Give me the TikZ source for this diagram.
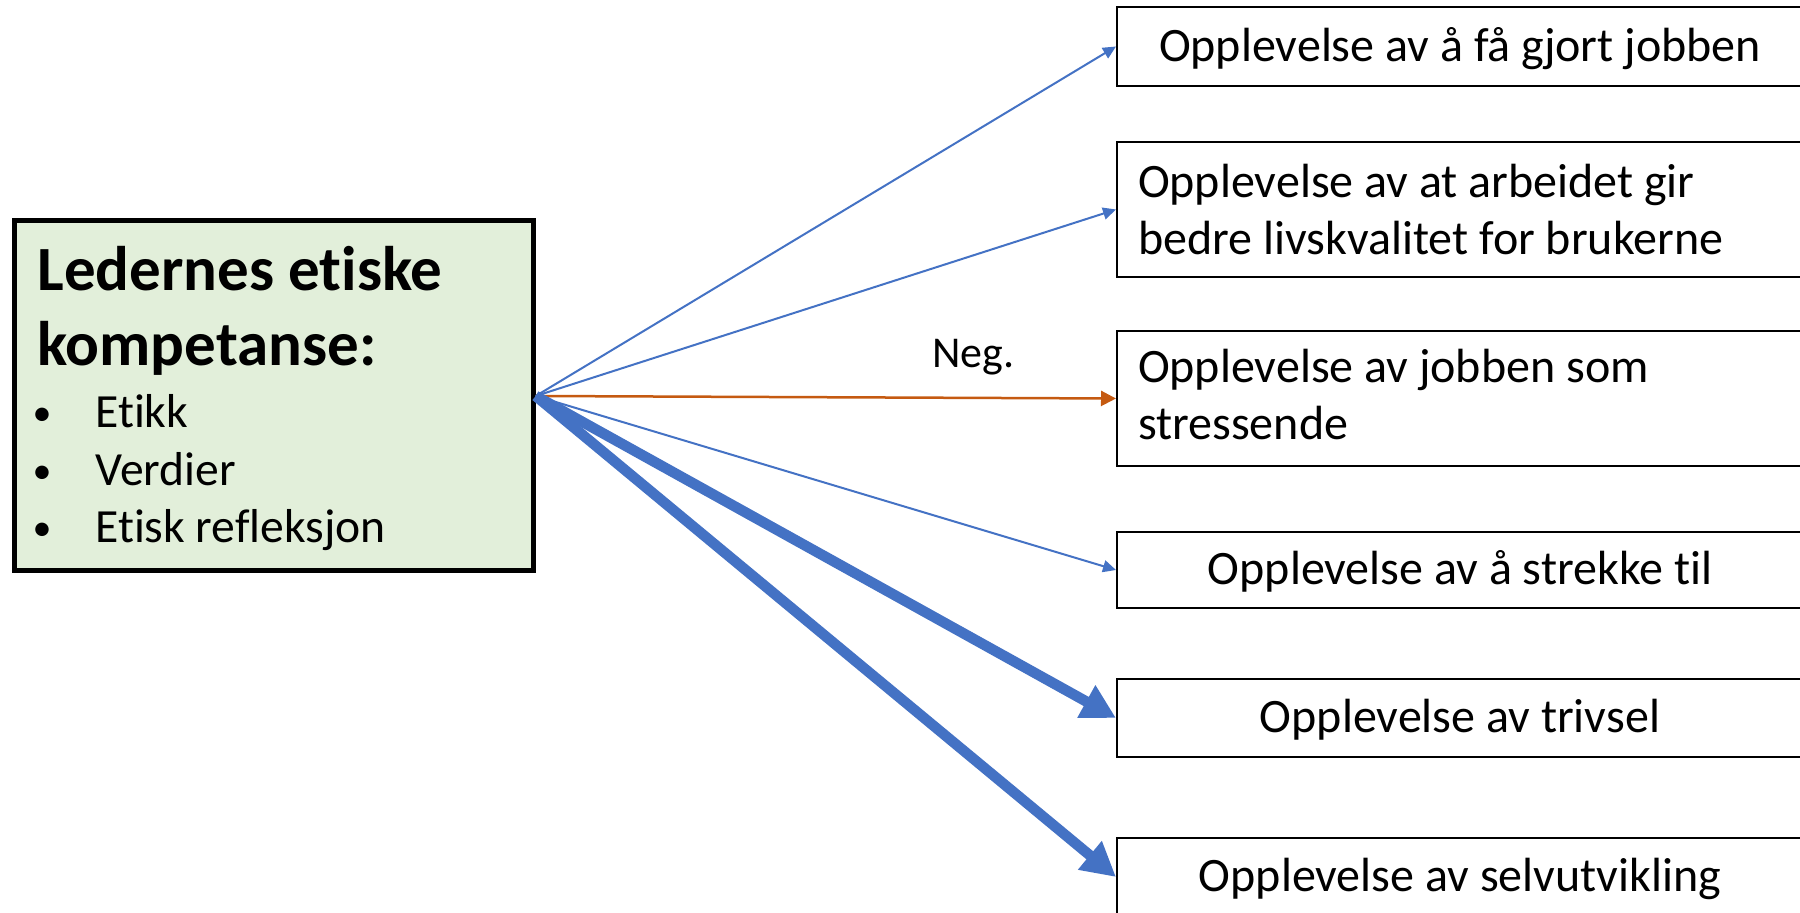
\documentclass[tikz,border=0pt]{standalone}
\usepackage{fontspec}
\setmainfont{Carlito}[Ligatures=NoCommon]
\usetikzlibrary{arrows.meta}
\definecolor{ablue}{HTML}{4472C4}
\definecolor{aorange}{HTML}{C55A11}
\definecolor{lgreen}{HTML}{E2EFDA}
\begin{document}
\begin{tikzpicture}[x=0.5pt,y=-0.5pt,
  outbox/.style={draw=black, line width=1pt, minimum width=343pt, inner sep=0pt, font=\fontsize{24}{28.5}\selectfont},
  single/.style={outbox, text height=15pt, text depth=0pt},
  double/.style={outbox, align=flush left, text width=322pt, inner xsep=10.5pt, minimum height=67.5pt},
  thinarrow/.style={draw=ablue, line width=1pt, -{Triangle[length=6.5pt,width=6pt]}},
  negarrow/.style={draw=aorange, line width=1.25pt, -{Triangle[length=7.5pt,width=7.5pt]}},
  thickarrow/.style={draw=ablue, line width=5.25pt, -{Triangle[length=17pt,width=17.5pt]}},
  bodytext/.style={font=\fontsize{23.8}{28.5}\selectfont, inner sep=0pt, anchor=base west},
  bulletdot/.style={font=\fontsize{19}{28.5}\selectfont, inner sep=0pt, anchor=base},
  titletext/.style={font=\fontsize{31.5}{37.5}\selectfont\bfseries, inner sep=0pt, anchor=base west},
  ]
\useasboundingbox (0,0) rectangle (1800,913);
% left box
\node[draw=black, line width=2.5pt, fill=lgreen, minimum width=259.5pt, minimum height=175pt, inner sep=0pt] (lb) at (273.75,396) {};
\node[titletext] (t1) at (37,291) {Ledernes etiske};
\node[titletext] (t2) at (37,366) {kompetanse:};
\node[bulletdot] (d1) at (42,426) {•};
\node[bodytext] (e1) at (95,428) {Etikk};
\node[bulletdot] (d2) at (42,484) {•};
\node[bodytext] (e2) at (95,486) {Verdier};
\node[bulletdot] (d3) at (42,541) {•};
\node[bodytext] (e3) at (95,543) {Etisk refleksjon};
% right boxes
\node[single, minimum height=39.5pt] (b1) at (1460,46.5) {Opplevelse av å få gjort jobben};
\node[double] (b2) at (1460,209.5) {Opplevelse av at arbeidet gir\\bedre livskvalitet for brukerne};
\node[double] (b3) at (1460,398.5) {Opplevelse av jobben som\\stressende\vphantom{g}};
\node[single, minimum height=38pt] (b4) at (1460,570) {Opplevelse av å strekke til};
\node[single, minimum height=39pt] (b5) at (1460,718) {Opplevelse av trivsel};
\node[single, minimum height=39pt] (b6) at (1460,877) {Opplevelse av selvutvikling};
% label
\node[font=\fontsize{22}{26}\selectfont, anchor=base west, inner sep=0pt] (neg) at (932,368) {Neg.};
% arrows
\draw[thinarrow] (lb.east) -- (b1.west);
\draw[thinarrow] (lb.east) -- (b2.west);
\draw[negarrow] (lb.east) -- (b3.west);
\draw[thinarrow] (lb.east) -- (b4.west);
\draw[thickarrow] (lb.east) -- (b5.west);
\draw[thickarrow] (lb.east) -- (b6.west);
\end{tikzpicture}
\end{document}
